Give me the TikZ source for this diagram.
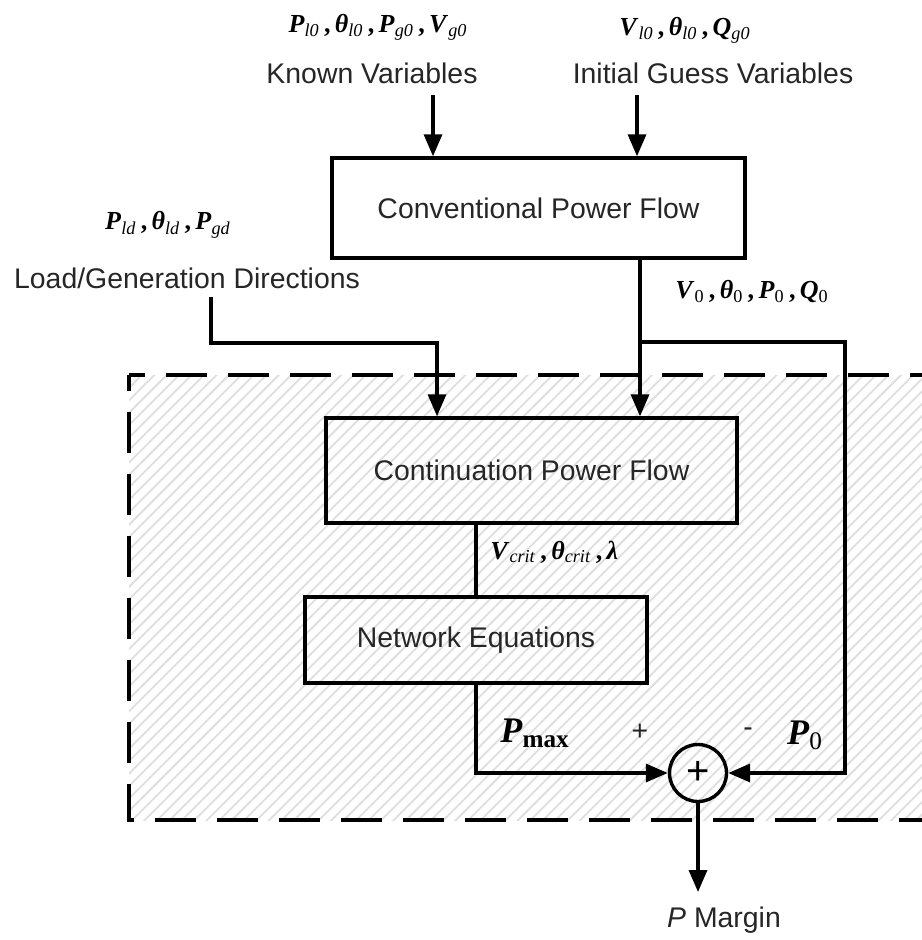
\documentclass[tikz,border=0pt]{standalone}
\usepackage{fontspec}
\setmainfont{Liberation Sans}
\newfontfamily\tms{Liberation Serif}
\usetikzlibrary{arrows.meta, positioning, patterns.meta}

\newcommand{\qs}[2]{\textbf{\textit{#1}}\textsubscript{\textit{#2}}}
\newcommand{\qz}[1]{\textbf{\textit{#1}}\textsubscript{0}}
\newcommand{\csep}{\,\textbf{,}\,}

\begin{document}
\begin{tikzpicture}[
  x=0.5pt, y=-0.5pt,
  font=\fontsize{14.2}{17}\selectfont, text=black!85,
  blk/.style={draw=black, line width=1.7pt, inner sep=0pt},
  var/.style={font=\tms\fontsize{13}{15}\selectfont, text=black},
  bigvar/.style={font=\tms\fontsize{18}{20}\selectfont, text=black},
  wire/.style={draw=black, line width=1.7pt},
  dashline/.style={line width=2pt, dash pattern=on 20.5pt off 10.5pt, dash phase=12.5pt},
  >={Triangle[length=11pt, width=9pt]}]
\useasboundingbox (0,0) rectangle (921,940);
% hatched region
\path[pattern={Lines[angle=45, distance=4.4pt, line width=0.9pt]}, pattern color=black!13]
  (129,375) rectangle (980,820);
\draw[dashline] (129,375) -- (980,375);
\draw[dashline] (129,375) -- (129,820) -- (980,820);
% blocks
\node[blk, fill=white, minimum width=206.5pt, minimum height=50pt] (conv) at (538.5,208) {Conventional Power Flow};
\node[blk, minimum width=205.5pt, minimum height=52.5pt] (cpf) at (531.5,470.5) {Continuation Power Flow};
\node[blk, minimum width=171pt, minimum height=43pt] (neteq) at (476,640) {Network Equations};
\node[blk, circle, minimum size=28.5pt, text=black] (sum) at (698,773) {\fontsize{20}{20}\selectfont +};
% labels
\node[var] (knownv) at (378,27) {\qs{P}{l0}\csep\qs{θ}{l0}\csep\qs{P}{g0}\csep\qs{V}{g0}};
\node (known) at (372,73) {Known Variables};
\node[var] (guessv) at (685,30) {\qs{V}{l0}\csep\qs{θ}{l0}\csep\qs{Q}{g0}};
\node (guess) at (713,73) {Initial Guess Variables};
\node[var] (dirv) at (168,225) {\qs{P}{ld}\csep\qs{θ}{ld}\csep\qs{P}{gd}};
\node (dir) at (187,278) {Load/Generation Directions};
\node[var, inner sep=0pt, anchor=west] (basev) at (675,292) {\qz{V}\csep\qz{θ}\csep\qz{P}\csep\qz{Q}};
\node[var, inner sep=0pt, anchor=west] (critv) at (490,552) {\qs{V}{crit}\csep\qs{θ}{crit}\csep\textbf{\textit{λ}}};
\node[bigvar] (pmax) at (535,733) {\textbf{\textit{P}}\textsubscript{\textbf{max}}};
\node (plus) at (640,732) {+};
\node (minus) at (748,732) {-};
\node[bigvar] (pzero) at (805,735) {\qz{P}};
\node (margin) at (724,920) {\textit{P} Margin};
% connectors
\coordinate (knownin) at (433,95);
\coordinate (guessin) at (637,95);
\coordinate (dirtop) at (211,297);
\coordinate (dirx) at (437,343);
\coordinate (split) at (640,342);
\coordinate (loop) at (845,342);
\coordinate (out) at (698,892);
\draw[wire, ->] (knownin) -- (knownin |- conv.north);
\draw[wire, ->] (guessin) -- (guessin |- conv.north);
\draw[wire, ->] (dirtop) |- (dirx) -- (dirx |- cpf.north);
\draw[wire, ->] (split |- conv.south) -- (split |- cpf.north);
\draw[wire, ->] (split) -- (loop) |- (sum);
\draw[wire] (cpf.south -| neteq.north) -- (neteq.north);
\draw[wire, ->] (neteq.south) |- (sum);
\draw[wire, ->] (sum) -- (out);
\end{tikzpicture}
\end{document}
